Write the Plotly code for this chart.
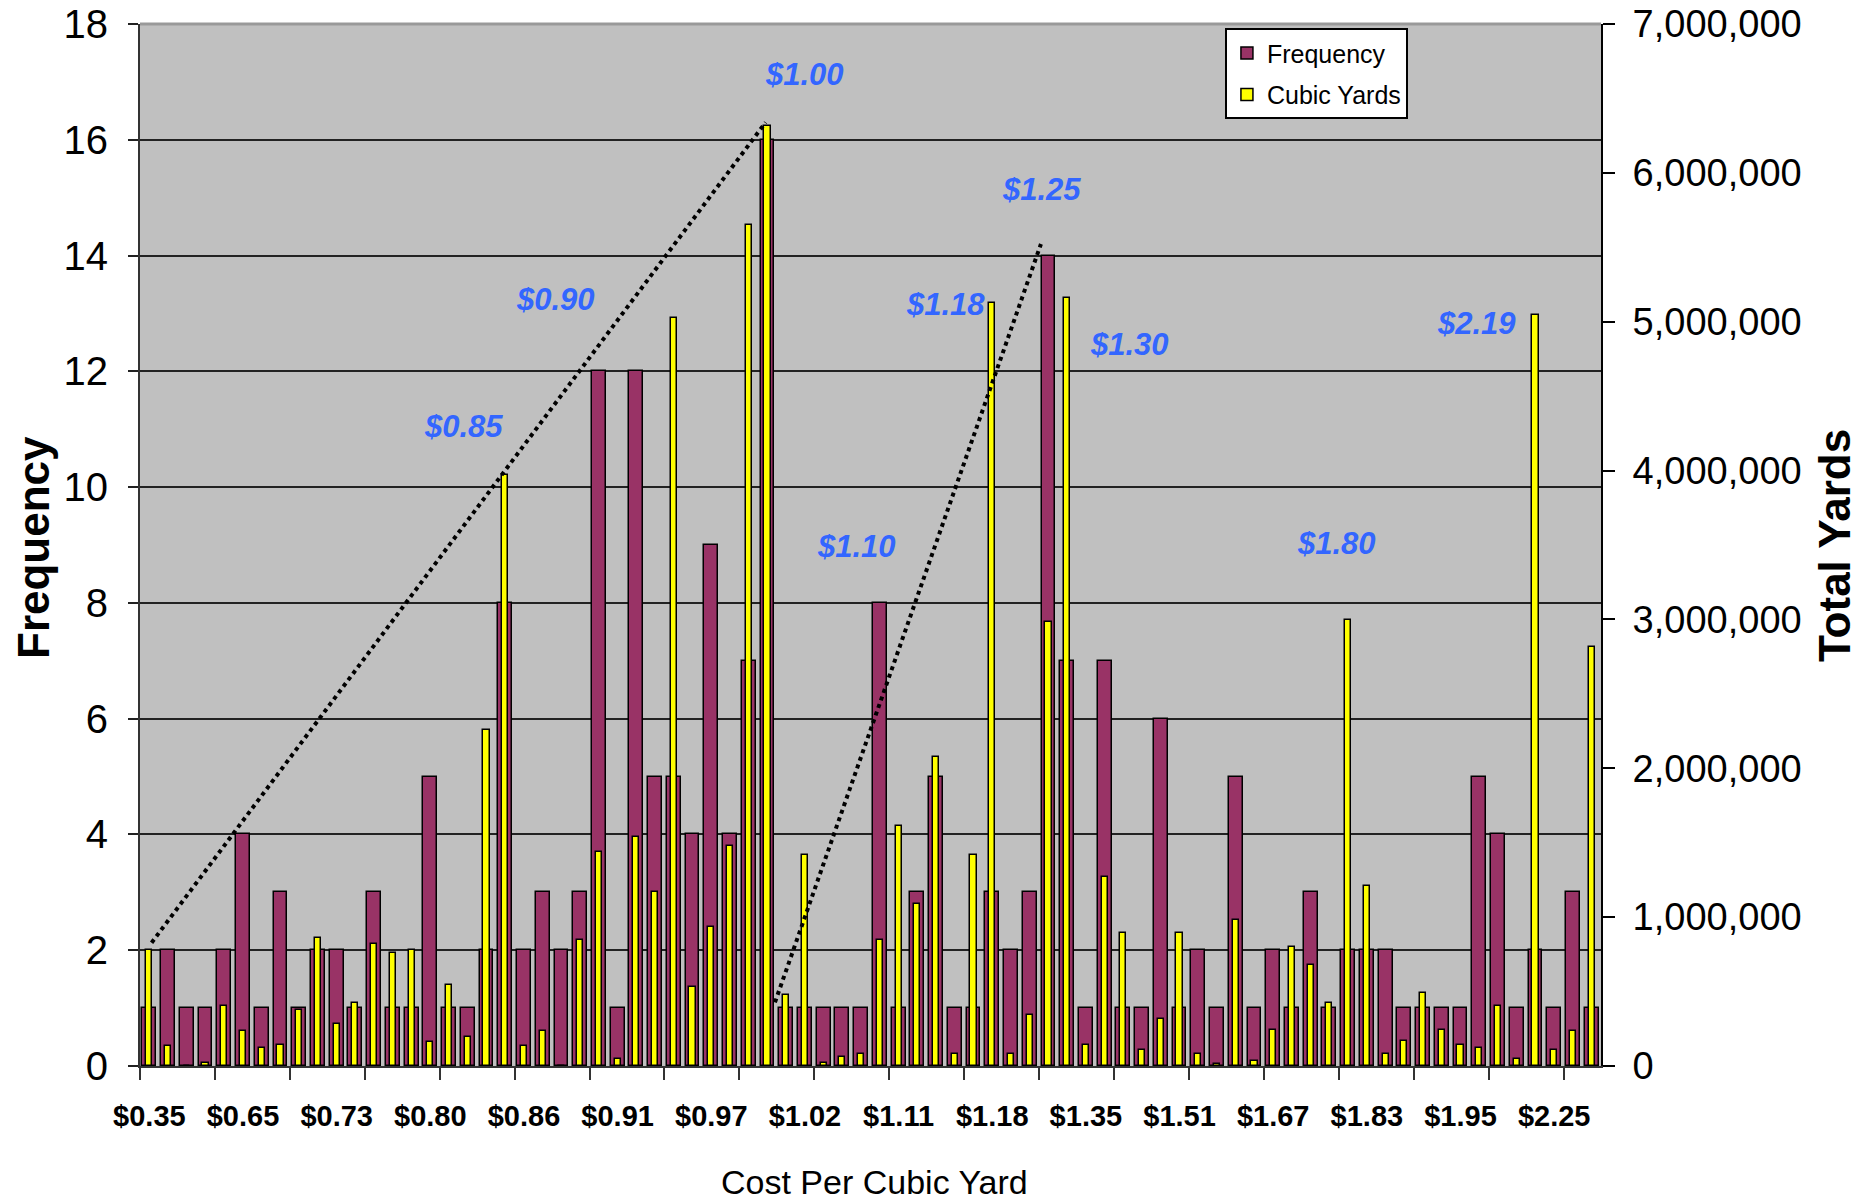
import plotly.graph_objects as go

# ---- data ----
frequency = [1, 2, 1, 1, 2, 4, 1, 3, 1, 2, 2, 1, 3,
             1, 1, 5, 1, 1, 2, 8, 2, 3, 2, 3, 12, 1,
             12, 5, 5, 4, 9, 4, 7, 16, 1, 1, 1, 1, 1,
             8, 1, 3, 5, 1, 1, 3, 2, 3, 14, 7, 1,
             7, 1, 1, 6, 1, 2, 1, 5, 1, 2, 1, 3, 1,
             2, 2, 2, 1, 1, 1, 1, 5, 4, 1, 2, 1, 3, 1]

cubic_yards = [778000, 136000, 0, 23000, 404000, 233000, 124000, 144000, 377000, 863000, 284000, 420000, 817000,
               762000, 778000, 159000, 541000, 198000, 2256000, 3967000, 136000, 233000, 0, 848000, 1439000, 47000,
               1540000, 1167000, 5028000, 533000, 933000, 1478000, 5647000, 6316000, 478000, 1419000, 23000, 62000, 82000,
               848000, 1614000, 1085000, 2073000, 82000, 1419000, 5126000, 82000, 346000, 2983000, 5157000, 144000,
               1272000, 894000, 105000, 319000, 894000, 82000, 16000, 984000, 35000, 245000, 801000, 677000, 420000,
               2998000, 1209000, 82000, 167000, 490000, 245000, 144000, 121000, 404000, 47000, 5044000, 105000, 233000, 2812000]

tick_labels = ["$0.35", "$0.65", "$0.73", "$0.80", "$0.86", "$0.91", "$0.97", "$1.02",
               "$1.11", "$1.18", "$1.35", "$1.51", "$1.67", "$1.83", "$1.95", "$2.25"]
label_every = 5
tickmark_every = 4

callouts = ["$1.00", "$0.90", "$0.85", "$1.18", "$1.25", "$1.30", "$1.10", "$1.80", "$2.19"]
callout_x = [34.95, 21.69, 16.76, 42.51, 47.64, 52.31, 37.77, 63.4, 70.83]
callout_y = [17.12, 13.24, 11.04, 13.15, 15.14, 12.47, 8.98, 9.03, 12.82]

n = len(frequency)
idx = list(range(n))

FONT = "Liberation Sans, Arial, sans-serif"

fig = go.Figure()
fig.add_trace(go.Bar(
    x=idx, y=frequency, name="Frequency", width=0.74, legendgroup="f",
    marker=dict(color="#993366", line=dict(color="black", width=1.5)),
    yaxis="y"))
fig.add_trace(go.Bar(
    x=idx, y=cubic_yards, name="Cubic Yards", width=0.33, legendgroup="c",
    marker=dict(color="#FFFF00", line=dict(color="black", width=1.5)),
    yaxis="y2"))

tickvals = idx[::label_every][:len(tick_labels)]
minor_vals = [i - 0.5 for i in range(0, n, tickmark_every)]

# plot area in page pixels: x 140..1601, y 24..1066 (page body has an 8px margin)
fig.update_layout(
    width=1872, height=1200,
    margin=dict(l=132, r=279, t=16, b=142, autoexpand=False),
    paper_bgcolor="white", plot_bgcolor="#C0C0C0",
    barmode="overlay", bargap=0,
    showlegend=True,
    legend=dict(x=0.7426, y=0.996, xanchor="left", yanchor="top",
                bgcolor="white", bordercolor="black", borderwidth=2,
                font=dict(family=FONT, size=25, color="black"),
                tracegroupgap=6, itemwidth=30),
    xaxis=dict(range=[-0.5, n - 0.5], tickmode="array", tickvals=tickvals, ticktext=tick_labels,
               ticks="", showgrid=False, zeroline=False, automargin=False,
               showline=True, linecolor="#333333", linewidth=2,
               tickfont=dict(family=FONT, size=29, color="black", weight="bold"),
               ticklabelstandoff=23, ticklabeloverflow="allow",
               minor=dict(tickmode="array", tickvals=minor_vals, ticks="outside", ticklen=12,
                          tickwidth=2, tickcolor="#333333", showgrid=False)),
    yaxis=dict(range=[0, 18], dtick=2, tick0=0, showgrid=True, gridcolor="#222222", gridwidth=2,
               zeroline=False, showline=True, linecolor="#333333", linewidth=2, automargin=False,
               ticks="outside", ticklen=10, tickwidth=2, tickcolor="#222222",
               tickfont=dict(family=FONT, size=40, color="black"),
               ticklabelstandoff=12, ticklabeloverflow="allow"),
    yaxis2=dict(range=[0, 7000000], dtick=1000000, tick0=0, overlaying="y", side="right",
                showgrid=False, zeroline=False, showline=True, linecolor="black", linewidth=2,
                automargin=False,
                ticks="outside", ticklen=12, tickwidth=2, tickcolor="black", tickformat=",d",
                tickfont=dict(family=FONT, size=38, color="black"),
                ticklabelstandoff=10, ticklabeloverflow="allow"),
)

# trend guide lines (dotted)
fig.add_shape(type="line", xref="x", yref="y", x0=0.12, y0=2.13, x1=32.9, y1=16.3,
              line=dict(color="black", width=4, dash="dot"))
fig.add_shape(type="line", xref="x", yref="y", x0=33.4, y0=1.1, x1=47.6, y1=14.2,
              line=dict(color="black", width=4, dash="dot"))
# top border of plot area
fig.add_shape(type="line", xref="paper", yref="paper", x0=0, x1=1, y0=1, y1=1,
              line=dict(color="#999999", width=3))

for t, cx, cy in zip(callouts, callout_x, callout_y):
    fig.add_annotation(x=cx, y=cy, xref="x", yref="y", text="<i><b>%s</b></i>" % t,
                       showarrow=False, xanchor="center", yanchor="middle",
                       font=dict(family=FONT, size=31, color="#3366FF"))

# axis titles (positions in plot-area paper fractions)
PW, PH = 1461.0, 1042.0
fig.add_annotation(xref="paper", yref="paper", x=(33 - 140) / PW, y=1 - (548 - 24) / PH,
                   text="<b>Frequency</b>", textangle=-90, showarrow=False,
                   xanchor="center", yanchor="middle",
                   font=dict(family=FONT, size=44, color="black"))
fig.add_annotation(xref="paper", yref="paper", x=(1834 - 140) / PW, y=1 - (546 - 24) / PH,
                   text="<b>Total Yards</b>", textangle=-90, showarrow=False,
                   xanchor="center", yanchor="middle",
                   font=dict(family=FONT, size=44, color="black"))
fig.add_annotation(xref="paper", yref="paper", x=(874 - 140) / PW, y=1 - (1182 - 24) / PH,
                   text="Cost Per Cubic Yard", showarrow=False,
                   xanchor="center", yanchor="middle",
                   font=dict(family=FONT, size=34, color="black"))

fig.write_html("out.html")
